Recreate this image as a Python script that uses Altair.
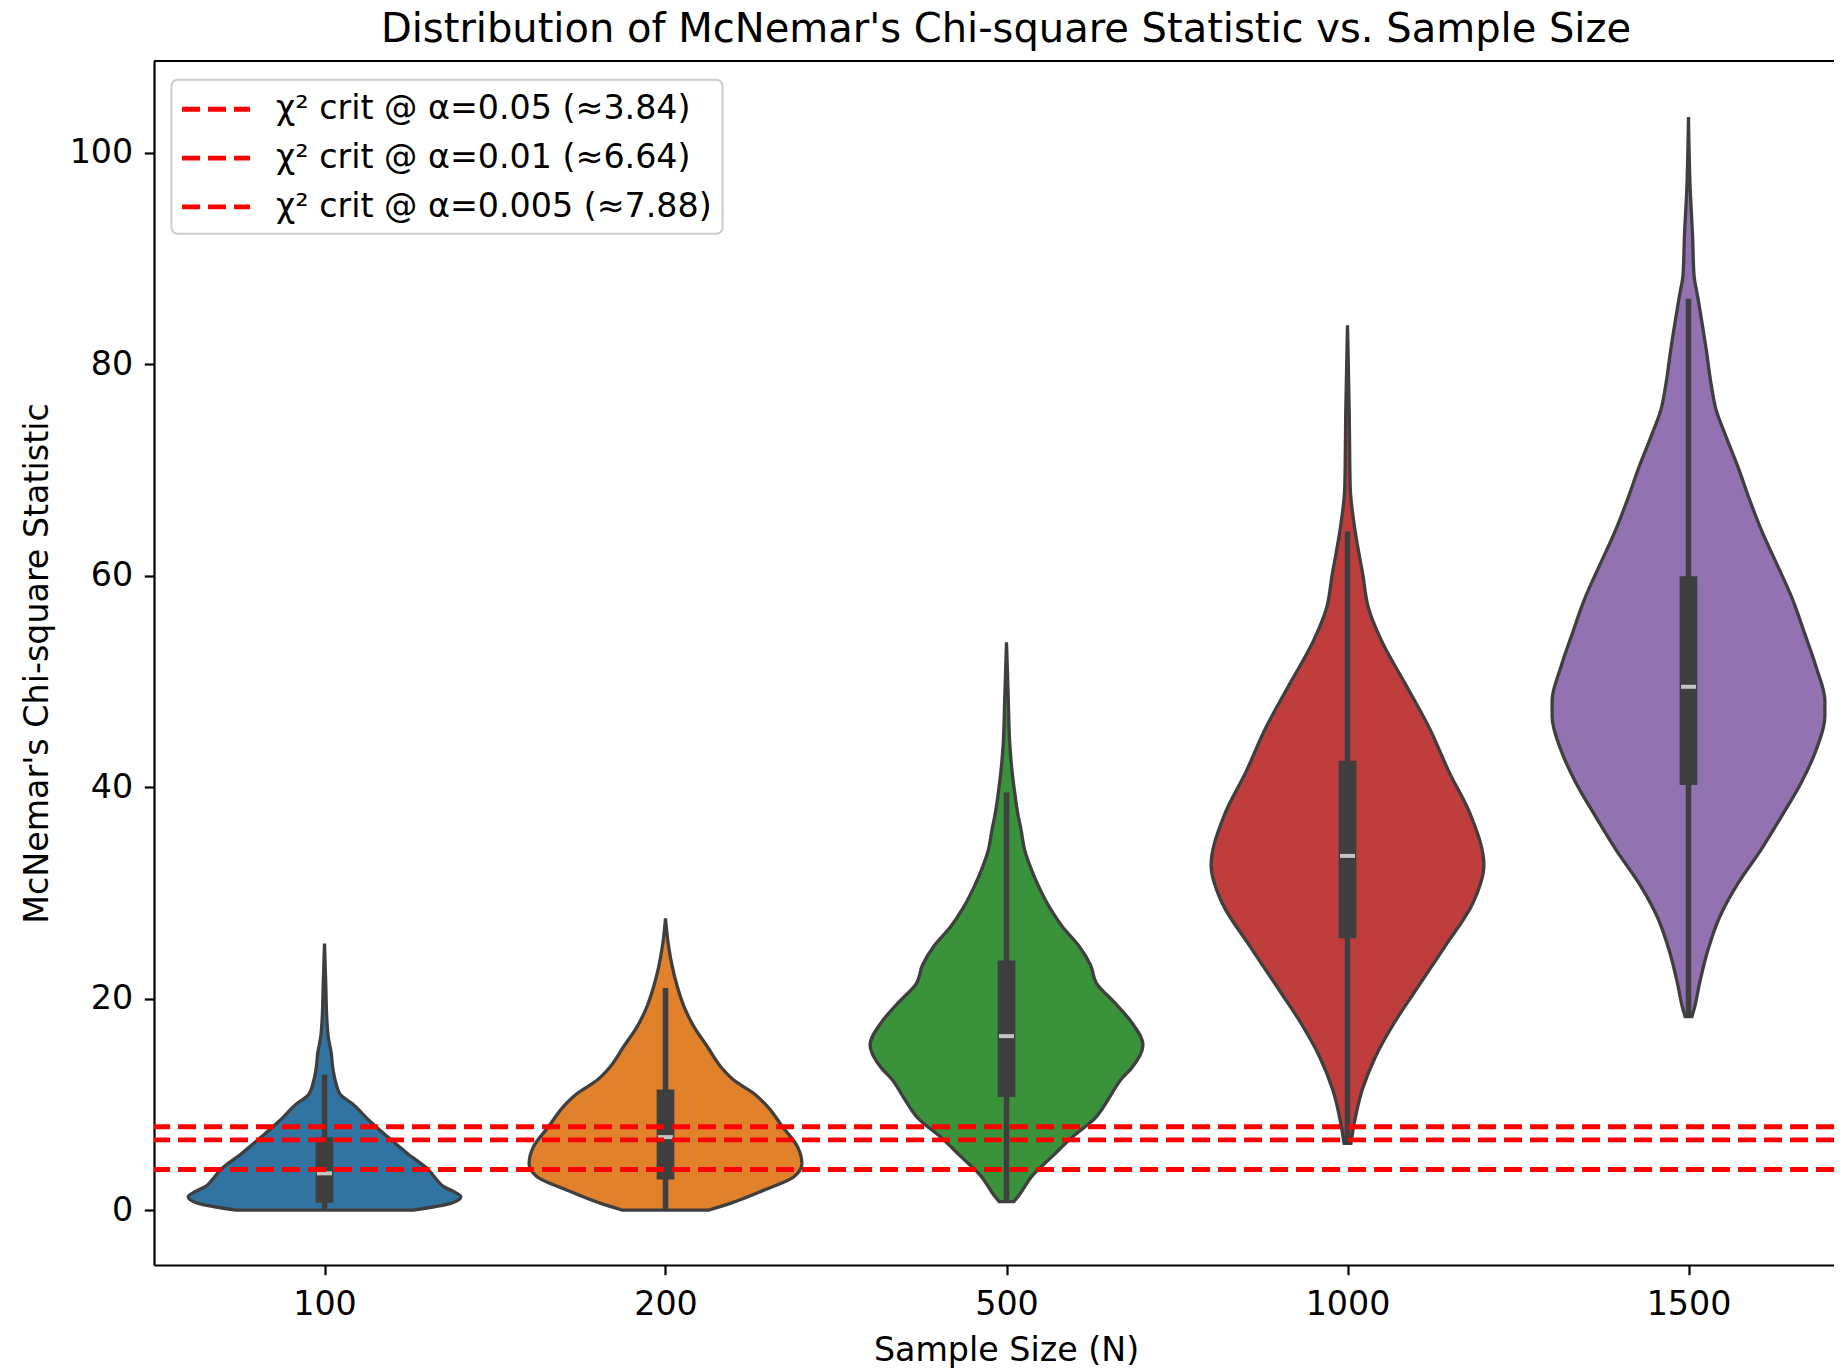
import altair as alt
import pandas as pd

# ---------------- data ----------------
categories = ["100", "200", "500", "1000", "1500"]
violin_colors = ["#3274a1", "#e1812c", "#3a923a", "#c03d3e", "#9372b2"]

# violin outlines: statistic value -> half width (in category units)
v100_val = [0, 0.63, 1.26, 1.73, 2.2, 2.84, 3.78, 5.35, 6.9, 8.5, 10.1, 10.9, 12.2, 13.5, 14.8, 16.4, 18.0, 21.1, 25.2]
v100_hw = [0.26, 0.37, 0.40, 0.38, 0.35, 0.33, 0.306, 0.243, 0.186, 0.13, 0.08, 0.047, 0.032, 0.024, 0.02, 0.011, 0.007, 0.004, 0.0]

v200_val = [0, 0.63, 1.9, 3.15, 4.4, 6.0, 7.88, 9.77, 11.0, 12.3, 13.56, 15.45, 17.3, 19.2, 21.1, 23.0, 25.2, 27.6]
v200_hw = [0.128, 0.19, 0.29, 0.377, 0.40, 0.387, 0.343, 0.30, 0.26, 0.20, 0.162, 0.123, 0.084, 0.055, 0.035, 0.02, 0.008, 0.0]

v500_val = [0.8, 1.5, 3.3, 5.1, 6.9, 8.7, 10.5, 12.4, 13.4, 15.6, 17.8, 19.6, 21.4, 23.2, 25.0, 26.8, 28.7, 30.5,
            32.3, 34.1, 35.9, 37.7, 39.5, 41.3, 43.9, 48.6, 53.7]
v500_hw = [0.022, 0.039, 0.077, 0.135, 0.193, 0.26, 0.299, 0.337, 0.366, 0.40, 0.366, 0.318, 0.265, 0.246, 0.212,
           0.164, 0.125, 0.096, 0.072, 0.053, 0.043, 0.032, 0.024, 0.017, 0.01, 0.005, 0.0]

v1000_val = [6.3, 8.25, 11.35, 14.5, 17.6, 20.7, 24.9, 29.0, 32.6, 37.3, 41.5, 45.6, 49.8, 53.9, 57.0, 60.1, 64.3,
             68.4, 75.7, 83.7]
v1000_hw = [0.01, 0.02, 0.043, 0.082, 0.135, 0.198, 0.285, 0.367, 0.40, 0.362, 0.297, 0.24, 0.169, 0.099, 0.061,
            0.045, 0.022, 0.008, 0.005, 0.0]

v1500_val = [18.3, 19.2, 21.4, 24.6, 27.7, 30.9, 34.1, 37.2, 40.4, 43.5, 46.7, 48.2, 51.4, 54.6, 57.7, 60.9, 64.0,
             67.2, 70.3, 73.5, 75.7, 78.2, 81.4, 86.4, 88.5, 92.1, 96.6, 103.4]
v1500_hw = [0.01, 0.018, 0.032, 0.057, 0.091, 0.145, 0.213, 0.272, 0.33, 0.374, 0.40, 0.40, 0.374, 0.34, 0.306,
            0.262, 0.218, 0.179, 0.145, 0.106, 0.081, 0.066, 0.052, 0.027, 0.016, 0.012, 0.005, 0.0]

# inner box statistics
q1 = [0.69, 2.9, 10.7, 25.7, 40.2]
median = [3.47, 6.9, 16.45, 33.5, 49.5]
q3 = [6.88, 11.4, 23.6, 42.5, 59.95]
whisker_lo = [0.0, 0.0, 0.8, 6.3, 18.3]
whisker_hi = [12.8, 21.0, 39.5, 64.2, 86.2]

# critical values
crit_labels = ["χ² crit @ α=0.05 (≈3.84)", "χ² crit @ α=0.01 (≈6.64)", "χ² crit @ α=0.005 (≈7.88)"]
crit_values = [3.841, 6.635, 7.879]

# ---------------- tables ----------------
profiles = [(v100_val, v100_hw), (v200_val, v200_hw), (v500_val, v500_hw),
            (v1000_val, v1000_hw), (v1500_val, v1500_hw)]
rows = []
for i, (cat, (vals, hws)) in enumerate(zip(categories, profiles)):
    for v, w in zip(vals, hws):
        rows.append({"N": cat, "idx": i, "v": v, "lo": i - w, "hi": i + w})
violin_df = pd.DataFrame(rows)

box_df = pd.DataFrame({
    "N": categories, "idx": list(range(len(categories))),
    "q1": q1, "median": median, "q3": q3, "wlo": whisker_lo, "whi": whisker_hi,
})
crit_df = pd.DataFrame({"label": crit_labels, "value": crit_values})

# ---------------- layout / style ----------------
FONT = "DejaVu Sans"
FS = 33.3
W, H = 1680, 1204
PX_PER_CAT = 341.0
DARK = "#3f3f3f"

label_js = "[" + ",".join("'" + c + "'" for c in categories) + "]"

x_scale = alt.Scale(domain=[-0.5, -0.5 + W / PX_PER_CAT], nice=False, zero=False)
y_scale = alt.Scale(domain=[-5.2, 108.7], nice=False, zero=False)

x_axis = alt.Axis(
    values=list(range(len(categories))), labelExpr=label_js + "[datum.value]",
    title="Sample Size (N)", grid=False,
    tickSize=9.7, tickWidth=2.2, tickColor="black",
    domainColor="black", domainWidth=2.2,
    labelFont=FONT, labelFontSize=FS, labelColor="black",
    labelBaseline="alphabetic", labelPadding=40, labelFlush=False, labelOverlap=False,
    titleFont=FONT, titleFontSize=FS, titleFontWeight="normal", titleColor="black",
    titleX=852, titleY=95, titleBaseline="alphabetic", titleAlign="center",
)
y_axis = alt.Axis(
    values=[0, 20, 40, 60, 80, 100], title="McNemar's Chi-square Statistic", grid=False,
    tickSize=9.7, tickWidth=2.2, tickColor="black",
    domainColor="black", domainWidth=2.2,
    labelFont=FONT, labelFontSize=FS, labelColor="black", labelPadding=11.6,
    labelFlush=False, labelOverlap=False,
    titleFont=FONT, titleFontSize=FS, titleFontWeight="normal", titleColor="black",
    titleAngle=270, titleX=-106.5, titleY=602, titleBaseline="alphabetic", titleAlign="center",
)

violins = alt.Chart(violin_df).mark_area(
    orient="horizontal", interpolate="monotone", stroke=DARK, strokeWidth=3.3, fillOpacity=1
).encode(
    y=alt.Y("v:Q", scale=y_scale, axis=y_axis),
    x=alt.X("lo:Q", scale=x_scale, axis=x_axis, stack=None),
    x2="hi:Q",
    fill=alt.Fill("N:N", scale=alt.Scale(domain=categories, range=violin_colors), legend=None),
)

whiskers = alt.Chart(box_df).mark_rule(color=DARK, strokeWidth=5.5).encode(
    x=alt.X("idx:Q", scale=x_scale, axis=x_axis),
    y=alt.Y("wlo:Q", scale=y_scale, axis=y_axis),
    y2="whi:Q",
)

boxes = alt.Chart(box_df).mark_rule(color=DARK, strokeWidth=17.7).encode(
    x=alt.X("idx:Q", scale=x_scale, axis=x_axis),
    y=alt.Y("q1:Q", scale=y_scale, axis=y_axis),
    y2="q3:Q",
)

medians = alt.Chart(box_df).mark_tick(orient="horizontal", color="white", size=15, thickness=4).encode(
    x=alt.X("idx:Q", scale=x_scale, axis=x_axis),
    y=alt.Y("median:Q", scale=y_scale, axis=y_axis),
)

crit = alt.Chart(crit_df).mark_rule(strokeDash=[18, 8], strokeWidth=4.9).encode(
    y=alt.Y("value:Q", scale=y_scale, axis=y_axis),
    stroke=alt.Stroke(
        "label:N",
        scale=alt.Scale(domain=crit_labels, range=["#ff0000"] * len(crit_labels)),
        legend=alt.Legend(
            title=None, orient="none", legendX=17.5, legendY=18.8, direction="vertical",
            symbolType="M-2,0H2", symbolSize=1156, symbolStrokeWidth=4.9, symbolDash=[18, 8],
            symbolOffset=15, labelOffset=40.5,
            labelFont=FONT, labelFontSize=FS, labelColor="black", labelLimit=1000,
            padding=10, rowPadding=12.8,
            fillColor="white", strokeColor="#cccccc", cornerRadius=6,
        ),
    ),
)

top_frame = alt.Chart(pd.DataFrame({"top": [108.7]})).mark_rule(color="black", strokeWidth=2.2).encode(
    y=alt.Y("top:Q", scale=y_scale, axis=y_axis),
)

chart = alt.layer(violins, whiskers, boxes, medians, crit, top_frame).properties(
    width=W, height=H,
    title=alt.TitleParams(
        text="Distribution of McNemar's Chi-square Statistic vs. Sample Size",
        font=FONT, fontSize=40, fontWeight="normal", color="black",
        anchor="middle", frame="group", baseline="alphabetic", offset=-22.5, dx=12,
    ),
    padding={"left": 146, "top": 53, "right": 0, "bottom": 104},
    autosize=alt.AutoSizeParams(type="none"),
    background="white",
).configure_view(stroke=None).configure_legend(strokeWidth=2)

chart.save("out.html", embed_options={"renderer": "svg", "actions": False})
